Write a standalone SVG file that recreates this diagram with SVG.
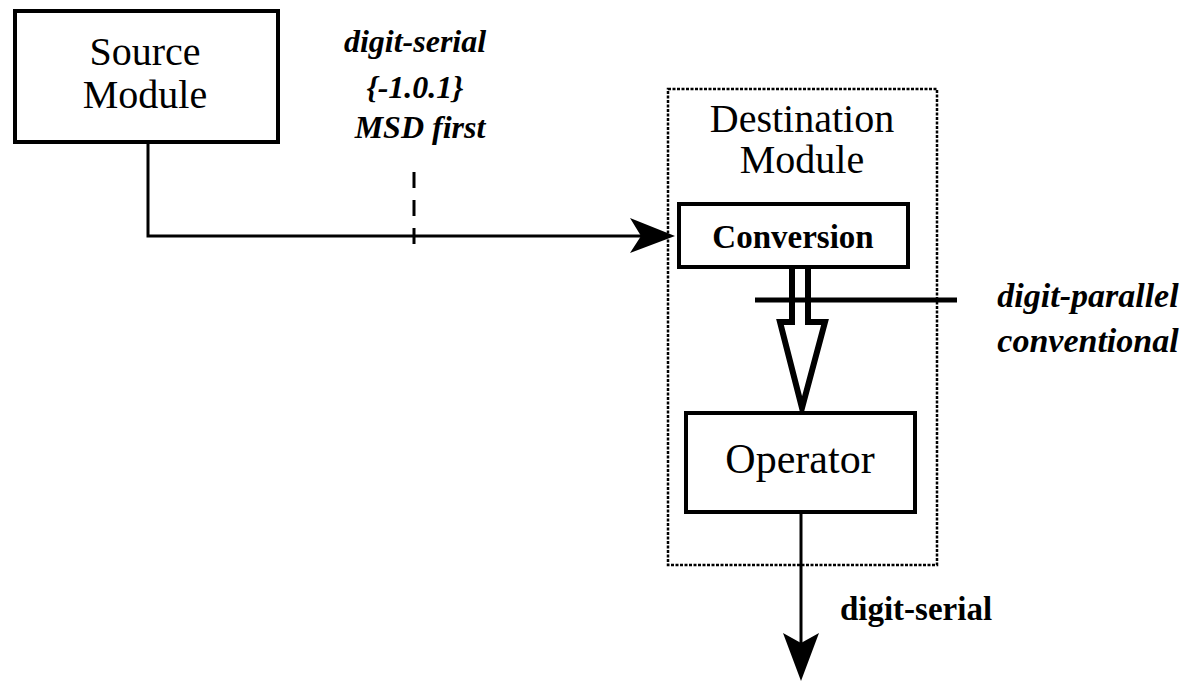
<svg xmlns="http://www.w3.org/2000/svg" width="1193" height="681" viewBox="0 0 1193 681">
<style>
.box{fill:#fff;stroke:#000;stroke-width:4}
.lbl{font-family:"Liberation Serif",serif;fill:#000;text-anchor:middle}
.it{font-family:"Liberation Serif",serif;font-style:italic;font-weight:bold;fill:#000;text-anchor:middle}
.ln{stroke:#000;fill:none;stroke-width:3}
</style>
<rect width="1193" height="681" fill="#fff"/>
<g id="connectors">
<polyline class="ln" points="148,142 148,236 645,236"/>
<path d="M675,236 L630,218 L641,236 L630,253 Z" fill="#000"/>
<line class="ln" x1="414" y1="172" x2="414" y2="252" stroke-dasharray="16,12"/>
<line class="ln" x1="801" y1="512" x2="801" y2="650"/>
<path d="M801,681 L783,633 L801,643 L819,633 Z" fill="#000"/>
<line x1="755" y1="300" x2="957" y2="300" stroke="#000" stroke-width="5"/>
<path d="M792,268 L792,322 L780,322 L802,408 L825,322 L808,322 L808,268" fill="none" stroke="#000" stroke-width="6" stroke-linejoin="miter"/>
</g>
<g id="source">
<rect class="box" x="15" y="11" width="263" height="131"/>
<text class="lbl" x="145" y="65" font-size="40">Source</text>
<text class="lbl" x="145" y="108" font-size="40">Module</text>
</g>
<g id="label-serial-in">
<text class="it" x="415" y="52" font-size="32">digit-serial</text>
<text class="it" x="415" y="98" font-size="32">{-1.0.1}</text>
<text class="it" x="420" y="138" font-size="32">MSD first</text>
</g>
<g id="destination">
<rect x="668" y="89" width="269" height="476" fill="none" stroke="#000" stroke-width="2.5" stroke-dasharray="3,1.5"/>
<text class="lbl" x="802" y="132" font-size="40">Destination</text>
<text class="lbl" x="802" y="173" font-size="40">Module</text>
</g>
<g id="conversion">
<rect class="box" x="679" y="204" width="229" height="63"/>
<text class="lbl" x="793" y="248" font-size="33" font-weight="bold">Conversion</text>
</g>
<g id="operator">
<rect class="box" x="686" y="413" width="229" height="99"/>
<text class="lbl" x="800" y="473" font-size="42">Operator</text>
</g>
<g id="label-parallel">
<text class="it" x="1088" y="307" font-size="34">digit-parallel</text>
<text class="it" x="1088" y="352" font-size="34">conventional</text>
</g>
<g id="label-serial-out">
<text class="lbl" x="916" y="620" font-size="33" font-weight="bold">digit-serial</text>
</g>
</svg>
